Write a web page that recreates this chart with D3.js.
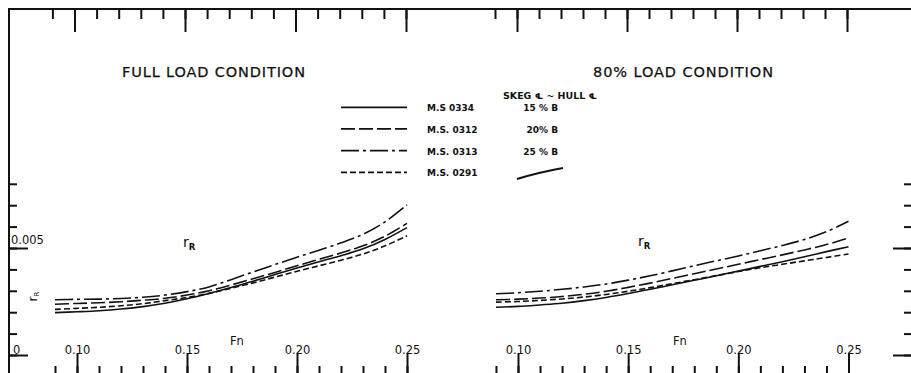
<!DOCTYPE html>
<html>
<head>
<meta charset="utf-8">
<script src="https://cdn.jsdelivr.net/npm/d3@7"></script>
<style>
  body { margin: 0; background: #fff; }
  svg { display: block; }
  text { font-family: 'DejaVu Sans', sans-serif; fill: #111; }
</style>
</head>
<body>
<script>
// r_R values are in units of 0.001 at each Fn station
const fnValues = [0.09, 0.10, 0.11, 0.12, 0.13, 0.14, 0.15, 0.16, 0.17, 0.18, 0.19, 0.20, 0.21, 0.22, 0.23, 0.24, 0.25]

const fullMS0334 = [1.98, 2.02, 2.07, 2.15, 2.26, 2.42, 2.63, 2.88, 3.15, 3.45, 3.76, 4.07, 4.36, 4.64, 4.96, 5.40, 5.95]
const fullMS0312 = [2.37, 2.41, 2.44, 2.49, 2.56, 2.65, 2.80, 3.00, 3.27, 3.56, 3.86, 4.17, 4.47, 4.77, 5.10, 5.55, 6.15]
const fullMS0313 = [2.58, 2.60, 2.61, 2.64, 2.70, 2.80, 2.96, 3.18, 3.52, 3.88, 4.23, 4.57, 4.90, 5.24, 5.64, 6.22, 7.02]
const fullMS0291 = [2.13, 2.18, 2.23, 2.30, 2.40, 2.54, 2.69, 2.88, 3.12, 3.37, 3.64, 3.91, 4.17, 4.43, 4.72, 5.10, 5.57]

const partMS0334 = [2.23, 2.27, 2.34, 2.42, 2.54, 2.69, 2.87, 3.07, 3.28, 3.49, 3.70, 3.92, 4.14, 4.36, 4.59, 4.83, 5.06]
const partMS0312 = [2.58, 2.61, 2.66, 2.73, 2.84, 2.98, 3.16, 3.36, 3.58, 3.80, 4.02, 4.24, 4.46, 4.68, 4.91, 5.16, 5.47]
const partMS0313 = [2.86, 2.91, 2.98, 3.07, 3.18, 3.32, 3.50, 3.70, 3.93, 4.17, 4.40, 4.63, 4.87, 5.12, 5.40, 5.76, 6.25]
const partMS0291 = [2.47, 2.50, 2.55, 2.62, 2.71, 2.83, 2.98, 3.15, 3.33, 3.52, 3.71, 3.90, 4.08, 4.24, 4.40, 4.56, 4.72]

const modelNames = ['M.S 0334', 'M.S. 0312', 'M.S. 0313', 'M.S. 0291']
const skegOffsets = ['15 % B', '20% B', '25 % B']
const fnMajorTicks = [0.10, 0.15, 0.20, 0.25]
const fnTickLabels = ['0.10', '0.15', '0.20', '0.25']
const fnMinorTicks = [0.09, 0.10, 0.11, 0.12, 0.13, 0.14, 0.15, 0.16, 0.17, 0.18, 0.19, 0.20, 0.21, 0.22, 0.23, 0.24, 0.25]
const rTicks = [0, 1, 2, 3, 4, 5, 6, 7, 8]
const rMajorTicks = [0, 5]

const W = 911, H = 373
const ink = '#111'
const dashes = ['none', '14,4', '18,4,3,4', '6,3']

const svg = d3.select('body').append('svg')
  .attr('width', W)
  .attr('height', H)

const y = d3.scaleLinear().domain([0, 8]).range([355, 183.8])

const panels = [
  {
    title: 'FULL LOAD CONDITION',
    titleX: 122, titleW: 183,
    series: [fullMS0334, fullMS0312, fullMS0313, fullMS0291],
    x: d3.scaleLinear().domain([0.10, 0.25]).range([77, 407]),
    top: d3.scaleLinear().domain([0.10, 0.25]).range([74.5, 406]),
    rLabel: [183, 247], fnLabel: [230, 345]
  },
  {
    title: '80% LOAD CONDITION',
    titleX: 593, titleW: 180,
    series: [partMS0334, partMS0312, partMS0313, partMS0291],
    x: d3.scaleLinear().domain([0.10, 0.25]).range([518, 848.5]),
    top: d3.scaleLinear().domain([0.10, 0.25]).range([517, 847]),
    rLabel: [638, 246], fnLabel: [673, 345]
  }
]

// frame: top rule and left upright
svg.append('line')
  .attr('x1', 8).attr('x2', W).attr('y1', 9).attr('y2', 9)
  .attr('stroke', ink).attr('stroke-width', 2)
svg.append('line')
  .attr('x1', 9).attr('x2', 9).attr('y1', 9).attr('y2', H)
  .attr('stroke', ink).attr('stroke-width', 2)

function styleAxis(g) {
  g.select('.domain').remove()
  g.selectAll('.tick line').attr('stroke', ink).attr('stroke-width', 2)
}

panels.forEach(p => {
  // top scale ticks hang from the rule
  svg.append('g')
    .attr('transform', 'translate(0,9)')
    .call(d3.axisBottom(p.top).tickValues(fnMinorTicks).tickSize(10).tickFormat(''))
    .call(styleAxis)
  svg.append('g')
    .attr('transform', 'translate(0,9)')
    .call(d3.axisBottom(p.top).tickValues(fnMajorTicks).tickSize(23).tickFormat(''))
    .call(styleAxis)

  // bottom Fn scale, ticks rise from below the picture edge
  svg.append('g')
    .attr('transform', 'translate(0,374)')
    .call(d3.axisTop(p.x).tickValues(fnMinorTicks).tickSize(8).tickFormat(''))
    .call(styleAxis)
  const bottom = svg.append('g')
    .attr('transform', 'translate(0,374)')
    .call(d3.axisTop(p.x).tickValues(fnMajorTicks).tickSize(21).tickPadding(-1)
      .tickFormat((d, i) => fnTickLabels[i]))
    .call(styleAxis)
  bottom.selectAll('.tick text')
    .attr('font-family', "'DejaVu Sans', sans-serif")
    .attr('font-size', 11.5)
    .attr('fill', ink)

  // title
  svg.append('text')
    .attr('x', p.titleX)
    .attr('y', 77)
    .attr('font-size', 14.5)
    .attr('stroke', ink)
    .attr('stroke-width', 0.25)
    .attr('textLength', p.titleW)
    .attr('lengthAdjust', 'spacing')
    .text(p.title)

  // curves
  const line = d3.line()
    .x((d, i) => p.x(fnValues[i]))
    .y(d => y(d))
    .curve(d3.curveCatmullRom.alpha(0.5))

  svg.append('g')
    .selectAll('path')
    .data(p.series)
    .join('path')
    .attr('d', line)
    .attr('fill', 'none')
    .attr('stroke', ink)
    .attr('stroke-width', 1.6)
    .attr('stroke-dasharray', (d, i) => dashes[i])

  // r_R and Fn labels inside the panel
  const r = svg.append('text')
    .attr('x', p.rLabel[0])
    .attr('y', p.rLabel[1])
    .attr('font-size', 14)
  r.append('tspan').text('r')
  r.append('tspan').attr('font-size', 8.5).attr('font-weight', 'bold').attr('dy', 3).text('R')

  svg.append('text')
    .attr('x', p.fnLabel[0])
    .attr('y', p.fnLabel[1])
    .attr('font-size', 11.5)
    .text('Fn')
})

// left r_R scale
svg.append('g')
  .attr('transform', 'translate(9,0)')
  .call(d3.axisRight(y).tickValues(rTicks).tickSize(8).tickFormat(''))
  .call(styleAxis)
svg.append('g')
  .attr('transform', 'translate(9,0)')
  .call(d3.axisRight(y).tickValues(rMajorTicks).tickSize(19).tickFormat(''))
  .call(styleAxis)
svg.append('text')
  .attr('x', 11).attr('y', y(5) - 4)
  .attr('font-size', 11.5)
  .text('0.005')
svg.append('text')
  .attr('x', 13).attr('y', y(0) - 1)
  .attr('font-size', 11.5)
  .text('0')

const rAxisLabel = svg.append('text')
  .attr('transform', `translate(37,${y(2.5)}) rotate(-90)`)
  .attr('font-size', 12)
rAxisLabel.append('tspan').text('r')
rAxisLabel.append('tspan').attr('font-size', 7).attr('dy', 2).text('R')

// right r_R scale, its upright sits just off the picture
svg.append('g')
  .attr('transform', `translate(${W},0)`)
  .call(d3.axisLeft(y).tickValues(rTicks).tickSize(7).tickFormat(''))
  .call(styleAxis)
svg.append('g')
  .attr('transform', `translate(${W},0)`)
  .call(d3.axisLeft(y).tickValues(rMajorTicks).tickSize(18).tickFormat(''))
  .call(styleAxis)

// legend
const legendY = d3.scaleLinear().domain([0, 3]).range([107.3, 172.3])

svg.append('text')
  .attr('x', 503).attr('y', 99)
  .attr('font-size', 8).attr('font-weight', 'bold')
  .attr('textLength', 94).attr('lengthAdjust', 'spacingAndGlyphs')
  .text('SKEG \u2104 ~ HULL \u2104')

const legend = svg.append('g')
  .selectAll('g')
  .data(modelNames)
  .join('g')
  .attr('transform', (d, i) => `translate(0,${legendY(i)})`)

legend.append('line')
  .attr('x1', 341).attr('x2', 407)
  .attr('stroke', ink).attr('stroke-width', 1.8)
  .attr('stroke-dasharray', (d, i) => dashes[i])

legend.append('text')
  .attr('x', 427).attr('y', 4)
  .attr('font-size', 9).attr('font-weight', 'bold')
  .text(d => d)

legend.filter((d, i) => i < skegOffsets.length)
  .append('text')
  .attr('x', 558).attr('y', 4)
  .attr('text-anchor', 'end')
  .attr('font-size', 9).attr('font-weight', 'bold')
  .text((d, i) => skegOffsets[i])

// hand-drawn stroke under the skeg column
svg.append('path')
  .attr('d', 'M517,179 Q538,172.5 563,168')
  .attr('fill', 'none')
  .attr('stroke', ink)
  .attr('stroke-width', 2)
</script>
</body>
</html>
